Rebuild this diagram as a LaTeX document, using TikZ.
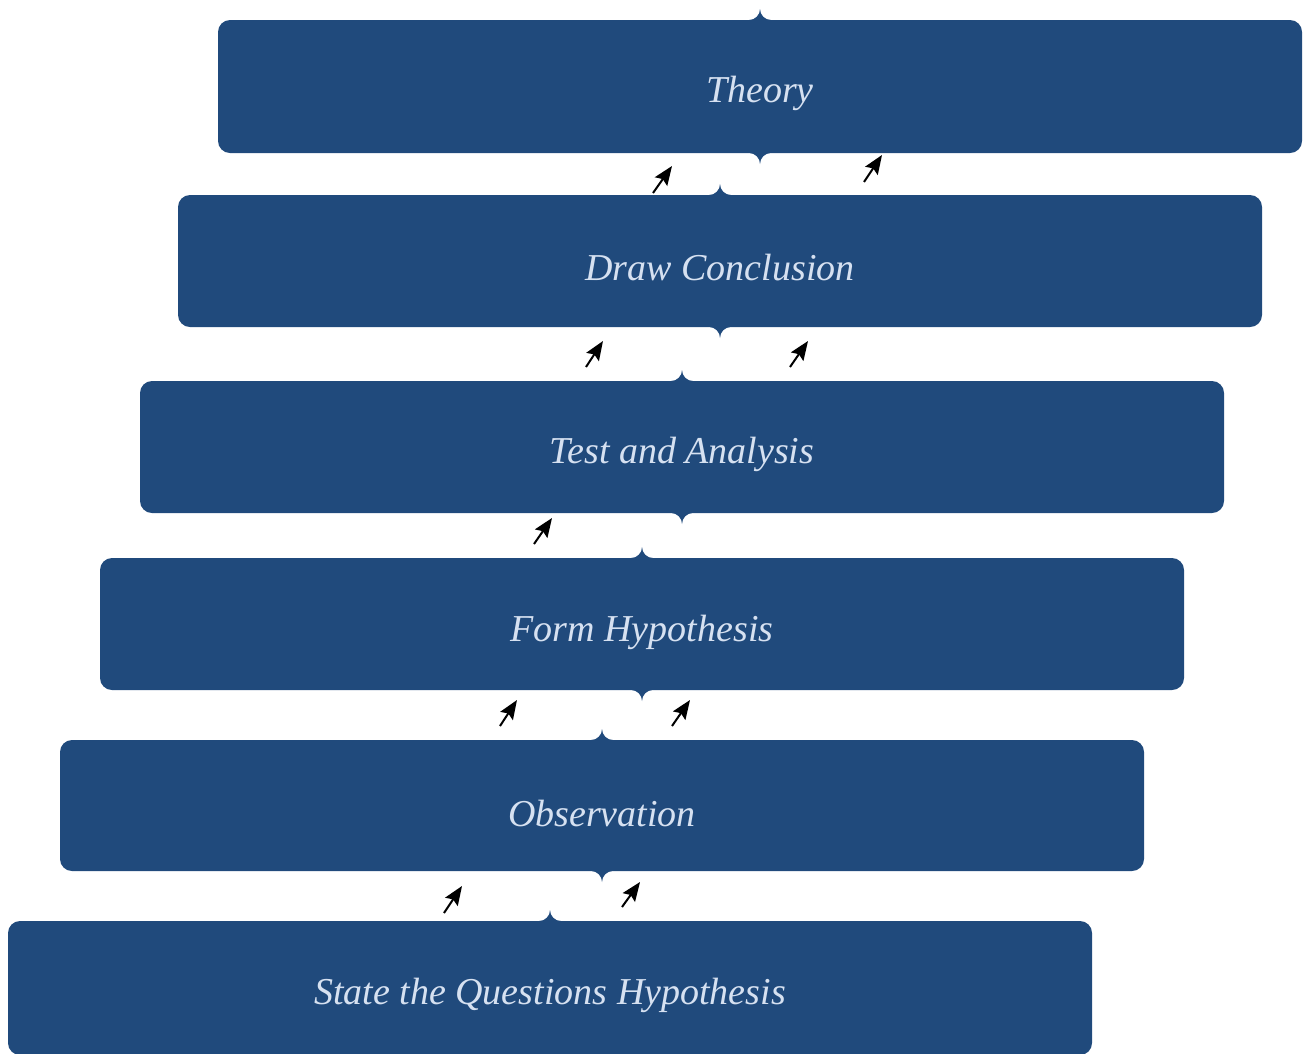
\documentclass[tikz,border=0pt]{standalone}
\usepackage{fontspec}
\setmainfont{Liberation Serif}
\usetikzlibrary{arrows.meta}
\definecolor{boxblue}{RGB}{32,74,124}
\definecolor{boxtext}{RGB}{214,225,241}

% Step box: rounded rectangle with brace-like tips at the top and bottom centre.
% #1 left, #2 top, #3 right, #4 bottom (y grows downwards)
\newcommand\stepshape[4]{%
  \pgfmathsetmacro\sL{#1}\pgfmathsetmacro\sT{#2}%
  \pgfmathsetmacro\sR{#3}\pgfmathsetmacro\sB{#4}%
  \pgfmathsetmacro\sC{(#1+#3)/2}%
  \def\rr{12}\def\aa{11}\def\ss{11}\def\kk{0.5523}%
  \pgfmathsetmacro\rk{\rr*\kk}\pgfmathsetmacro\ak{\aa*\kk}\pgfmathsetmacro\sk{\ss*\kk}%
  \fill[boxblue]
    (\sL,\sT+\rr)
      .. controls (\sL,\sT+\rr-\rk) and (\sL+\rr-\rk,\sT) .. (\sL+\rr,\sT)
    -- (\sC-\aa,\sT)
      .. controls (\sC-\aa+\ak,\sT) and (\sC,\sT-\ss+\sk) .. (\sC,\sT-\ss)
      .. controls (\sC,\sT-\ss+\sk) and (\sC+\aa-\ak,\sT) .. (\sC+\aa,\sT)
    -- (\sR-\rr,\sT)
      .. controls (\sR-\rr+\rk,\sT) and (\sR,\sT+\rr-\rk) .. (\sR,\sT+\rr)
    -- (\sR,\sB-\rr)
      .. controls (\sR,\sB-\rr+\rk) and (\sR-\rr+\rk,\sB) .. (\sR-\rr,\sB)
    -- (\sC+\aa,\sB)
      .. controls (\sC+\aa-\ak,\sB) and (\sC,\sB+\ss-\sk) .. (\sC,\sB+\ss)
      .. controls (\sC,\sB+\ss-\sk) and (\sC-\aa+\ak,\sB) .. (\sC-\aa,\sB)
    -- (\sL+\rr,\sB)
      .. controls (\sL+\rr-\rk,\sB) and (\sL,\sB-\rr+\rk) .. (\sL,\sB-\rr)
    -- cycle;%
}

\tikzset{
  steplabel/.style={text=boxtext, font=\fontsize{38}{44}\selectfont\itshape, inner sep=0pt},
  uparrow/.style={-{Stealth[length=19pt,width=15pt,inset=3pt]}, line width=2pt, black},
}

\begin{document}
\begin{tikzpicture}[x=1pt,y=-1pt]
  \useasboundingbox (0,0) rectangle (1303,1053);

  % the six steps, top to bottom
  \stepshape{218}{20}{1302}{153}
  \stepshape{178}{195}{1262}{327}
  \stepshape{140}{381}{1224}{513}
  \stepshape{100}{558}{1184}{690}
  \stepshape{60}{740}{1144}{871}
  \stepshape{8}{921}{1092}{1055}

  \node[steplabel] (theory) at (760,93) {Theory};
  \node[steplabel] (conclusion) at (720,268) {Draw Conclusion};
  \node[steplabel] (test) at (682,454) {Test and Analysis};
  \node[steplabel] (form) at (642,632) {Form Hypothesis};
  \node[steplabel] (observation) at (602,813) {Observation};
  \node[steplabel] (state) at (550,995) {State the Questions Hypothesis};

  % small arrows in the gaps between steps
  \coordinate (a1s) at (653,193); \coordinate (a1e) at (672,166);
  \coordinate (a2s) at (864,182); \coordinate (a2e) at (882,155);
  \coordinate (b1s) at (586,367); \coordinate (b1e) at (603,341);
  \coordinate (b2s) at (790,367); \coordinate (b2e) at (808,341);
  \coordinate (c1s) at (534,544); \coordinate (c1e) at (552,518);
  \coordinate (d1s) at (500,726); \coordinate (d1e) at (517,700);
  \coordinate (d2s) at (672,726); \coordinate (d2e) at (690,700);
  \coordinate (e1s) at (444,913); \coordinate (e1e) at (462,886);
  \coordinate (e2s) at (622,907); \coordinate (e2e) at (640,882);

  \foreach \p in {a1,a2,b1,b2,c1,d1,d2,e1,e2}
    \draw[uparrow] (\p s) -- (\p e);
\end{tikzpicture}
\end{document}
